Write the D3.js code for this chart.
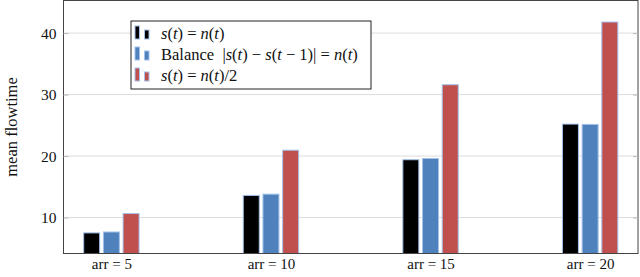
<!DOCTYPE html>
<html><head><meta charset="utf-8">
<script src="https://cdn.jsdelivr.net/npm/d3@7"></script>
<style>body{margin:0;background:#fff}svg{display:block}text{font-family:"Liberation Serif","DejaVu Serif",serif;fill:#111}</style>
</head><body>
<svg id="c" width="640" height="277"></svg>
<script>
const categories = [5, 10, 15, 20];
const catLabels = ["arr = 5", "arr = 10", "arr = 15", "arr = 20"];
const seriesNames = ["eq", "balance", "half"];
const sEq = [7.5, 13.6, 19.4, 25.2];
const sBalance = [7.65, 13.8, 19.6, 25.15];
const sHalf = [10.65, 20.95, 31.6, 41.8];
const yTicks = [10, 20, 30, 40];
const colors = ["#000000", "#4f81bd", "#c0504d"];
const series = [sEq, sBalance, sHalf];

const svg = d3.select("#c");
const L = 63.5, R = 638, T = 0.5, B = 253.5;
const x = d3.scaleLinear().domain([3.5, 21.5]).range([L, R]);
const y = d3.scaleLinear().domain([4.15, 45.3]).range([B, T]);

// grid
svg.append("g").selectAll("line").data(yTicks).join("line")
  .attr("x1", L).attr("x2", R).attr("y1", d => y(d)).attr("y2", d => y(d))
  .attr("stroke", "#dcdcdc").attr("stroke-width", 1);

// bars
const bw = 16, gap = 19.7;
series.forEach((s, i) => {
  svg.append("g").selectAll("rect").data(s).join("rect")
    .attr("x", (d, j) => x(categories[j]) + (i - 1) * gap - bw / 2)
    .attr("width", bw)
    .attr("y", d => y(d))
    .attr("height", d => y.range()[0] - y(d))
    .attr("fill", colors[i])
    .attr("stroke", "#a3c2ea").attr("stroke-width", 1);
});

// frame
svg.append("rect").attr("x", L).attr("y", T).attr("width", R - L).attr("height", B - T)
  .attr("fill", "none").attr("stroke", "#444").attr("stroke-width", 1);

// ticks
const yAxisL = d3.axisLeft(y).tickValues(yTicks).tickSize(-5).tickPadding(7);
const gy = svg.append("g").attr("transform", `translate(${L},0)`).call(yAxisL);
gy.select(".domain").remove();
gy.selectAll(".tick line").attr("stroke", "#bbb");
gy.selectAll(".tick text").style("font-size", "15.5px").style("font-family", '"Liberation Serif",serif').attr("fill", "#111");
const yAxisR = d3.axisRight(y).tickValues(yTicks).tickSize(-5).tickFormat("");
const gr = svg.append("g").attr("transform", `translate(${R},0)`).call(yAxisR);
gr.select(".domain").remove();
gr.selectAll(".tick line").attr("stroke", "#bbb");

const xAxis = d3.axisBottom(x).tickValues(categories).tickSize(0).tickPadding(5)
  .tickFormat((d, i) => catLabels[i]);
const gx = svg.append("g").attr("transform", `translate(0,${B})`).call(xAxis);
gx.select(".domain").remove();
gx.selectAll(".tick text").style("font-size", "15px").style("font-family", '"Liberation Serif",serif').attr("fill", "#111");

// y label
svg.append("text").attr("transform", `translate(17,${(T + B) / 2}) rotate(-90)`)
  .attr("text-anchor", "middle").style("font-size", "16.5px").text("mean flowtime");

// legend
const lg = svg.append("g");
lg.append("rect").attr("x", 131).attr("y", 21).attr("width", 240).attr("height", 68)
  .attr("fill", "#fff").attr("stroke", "#222").attr("stroke-width", 1);
const rows = [
  [["s", 1], ["(", 0], ["t", 1], [") = ", 0], ["n", 1], ["(", 0], ["t", 1], [")", 0]],
  [["Balance  |", 0], ["s", 1], ["(", 0], ["t", 1], [") − ", 0], ["s", 1], ["(", 0], ["t", 1], [" − 1)| = ", 0], ["n", 1], ["(", 0], ["t", 1], [")", 0]],
  [["s", 1], ["(", 0], ["t", 1], [") = ", 0], ["n", 1], ["(", 0], ["t", 1], [")/2", 0]]
];
rows.forEach((r, i) => {
  const cy = 33 + i * 21;
  lg.append("rect").attr("x", 135).attr("y", cy - 7).attr("width", 4.5).attr("height", 13)
    .attr("fill", colors[i]).attr("stroke", "#a3c2ea").attr("stroke-width", 1);
  lg.append("rect").attr("x", 144.5).attr("y", cy - 3).attr("width", 4.5).attr("height", 9)
    .attr("fill", colors[i]).attr("stroke", "#a3c2ea").attr("stroke-width", 1);
  const t = lg.append("text").attr("x", 161).attr("y", cy + 5.5).style("font-size", "16.5px")
    .attr("xml:space", "preserve").style("white-space", "pre");
  r.forEach(([s, it]) => t.append("tspan").style("font-style", it ? "italic" : "normal").text(s));
});
</script>
</body></html>
